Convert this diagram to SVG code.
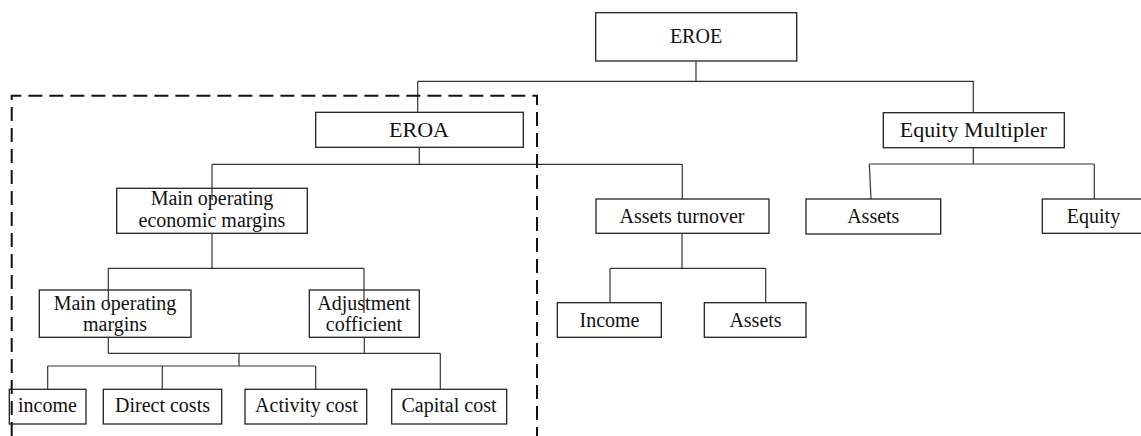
<svg xmlns="http://www.w3.org/2000/svg" width="1141" height="436" viewBox="0 0 1141 436">
<style>
.box{fill:#fff;stroke:#222;stroke-width:1.3}
.t{font-family:"Liberation Serif","Times New Roman",serif;font-size:20px;fill:#111;text-anchor:middle}
.big{font-size:22px}
.c{fill:none;stroke:#333;stroke-width:1.2}
.dash{fill:none;stroke:#111;stroke-width:2;stroke-dasharray:14 7}
</style>
<rect width="1141" height="436" fill="#fff"/>
<g id="nodes">
<g id="eroe"><rect class="box" x="595.7" y="12.7" width="201" height="48.3"/><text class="t" x="696" y="42.7">EROE</text></g>
<g id="eroa"><rect class="box" x="315.7" y="112.3" width="207.6" height="35"/><text class="t big" x="419" y="136.7">EROA</text></g>
<g id="equity-multipler"><rect class="box" x="883.3" y="112.7" width="181" height="35"/><text class="t big" x="973.5" y="136.7">Equity Multipler</text></g>
<g id="moem"><rect class="box" x="116.7" y="188.3" width="190.6" height="45"/><text class="t" x="212" y="205">Main operating</text><text class="t" x="212" y="227.3">economic margins</text></g>
<g id="assets-turnover"><rect class="box" x="596" y="199" width="173" height="34.3"/><text class="t" x="682" y="222.7">Assets turnover</text></g>
<g id="assets-right"><rect class="box" x="806" y="199" width="134.7" height="35"/><text class="t" x="873.3" y="222.7">Assets</text></g>
<g id="equity"><rect class="box" x="1042.3" y="199" width="104" height="34.3"/><text class="t" x="1093.5" y="222.7">Equity</text></g>
<g id="mom"><rect class="box" x="39.3" y="290" width="151.7" height="47.3"/><text class="t" x="115" y="309.5">Main operating</text><text class="t" x="115" y="331.3">margins</text></g>
<g id="adjustment"><rect class="box" x="309.3" y="290" width="110" height="47.3"/><text class="t" x="364" y="309.5">Adjustment</text><text class="t" x="364" y="331.3">cofficient</text></g>
<g id="income-mid"><rect class="box" x="557.3" y="302.7" width="104" height="34.6"/><text class="t" x="609.5" y="326.7">Income</text></g>
<g id="assets-mid"><rect class="box" x="704.3" y="302.7" width="101.7" height="34.6"/><text class="t" x="755.5" y="326.7">Assets</text></g>
<g id="income"><rect class="box" x="9.3" y="389.3" width="76.7" height="34.7"/><text class="t" x="47.5" y="411.7">income</text></g>
<g id="direct-costs"><rect class="box" x="103.3" y="389.3" width="118.4" height="34.7"/><text class="t" x="162.5" y="411.7">Direct costs</text></g>
<g id="activity-cost"><rect class="box" x="245" y="389.3" width="121.7" height="34.7"/><text class="t" x="306.5" y="411.7">Activity cost</text></g>
<g id="capital-cost"><rect class="box" x="391.7" y="389.3" width="115" height="34.7"/><text class="t" x="449" y="411.7">Capital cost</text></g>
</g>
<g id="connectors">
<path class="c" d="M696 61V81.3M417.7 81.3H974M417.7 81.3V112.3M973.3 81.3V112.7"/>
<path class="c" d="M419.3 147.3V164.3M212 164.3H682.3M212 164.3V200M682.3 164.3V199"/>
<path class="c" d="M973.3 147.7V164M869.3 164H1094.3M869.3 164L871 199M1094.3 164V199"/>
<path class="c" d="M682 233.3V268.3M610 268.3H765.7M610 268.3V302.7M765.7 268.3V302.7"/>
<path class="c" d="M212 233.3V268.3M108.3 268.3H364M108.3 268.3V305M364 268.3V313"/>
<path class="c" d="M108.3 337.3V353.3M364.3 337.3V353.3M108.3 353.3H440.3M440.3 353.3V389.3"/>
<path class="c" d="M239 353.3V366M47.7 366H315.7M47.7 366V389.3M162.3 366V389.3M315.7 366V389.3"/>
<path id="group-frame" class="dash" d="M11.7 436V95.7H537V436"/>
</g>
</svg>
